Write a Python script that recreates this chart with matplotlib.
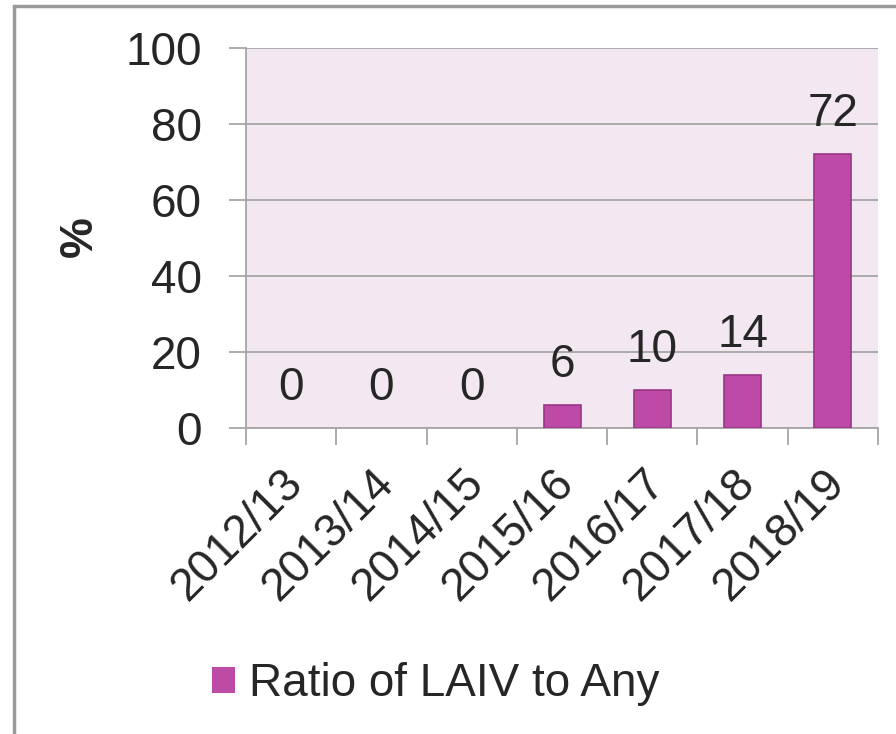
import matplotlib.pyplot as plt
from matplotlib.patches import Rectangle
from matplotlib.transforms import ScaledTranslation

# data
seasons = ['2012/13', '2013/14', '2014/15', '2015/16', '2016/17', '2017/18', '2018/19']
ratio = [0, 0, 0, 6, 10, 14, 72]
series_name = 'Ratio of LAIV to Any'
y_ticks = [0, 20, 40, 60, 80, 100]

plt.rcParams['font.family'] = ['Liberation Sans', 'DejaVu Sans']
fs = 33
bar_color = '#BC4AA6'
edge_color = '#9B3587'
grid_color = '#A6A6A6'
text_color = '#262626'

fig = plt.figure(figsize=(8.96, 7.34), dpi=100)
ax = fig.add_axes([0.2746, 0.4169, 0.7054, 0.5177])
ax.set_facecolor('#F3E8F1')

x = list(range(len(seasons)))
bars = ax.bar(x, ratio, width=0.41, color=bar_color, edgecolor=edge_color,
              linewidth=1.2, label=series_name, zorder=3)
for b, v in zip(bars, ratio):
    if v == 0:
        b.set_linewidth(0)

for xi, v in zip(x, ratio):
    ax.annotate(str(v), (xi, v), xytext=(0, 13), textcoords='offset points',
                ha='center', va='bottom', fontsize=fs, color=text_color)

ax.set_xlim(-0.5, len(seasons) - 0.5)
ax.set_ylim(0, 100)
ax.set_yticks(y_ticks)
ax.yaxis.grid(True, color=grid_color, linewidth=1.3, zorder=0)
ax.set_axisbelow(True)

for s in ['top', 'right']:
    ax.spines[s].set_visible(False)
for s in ['left', 'bottom']:
    ax.spines[s].set_color(grid_color)
    ax.spines[s].set_linewidth(1.3)

ax.tick_params(axis='y', length=12, width=1.3, color=grid_color, pad=20,
               labelsize=fs, labelcolor=text_color)
# x ticks sit between categories
ax.set_xticks([i - 0.5 for i in range(len(seasons) + 1)])
ax.set_xticklabels([])
ax.tick_params(axis='x', length=12, width=1.3, color=grid_color)
ax.set_xticks(x, minor=True)
ax.set_xticklabels(seasons, minor=True, rotation=45, ha='right', va='top',
                   rotation_mode='anchor', fontsize=fs, color=text_color)
ax.tick_params(axis='x', which='minor', length=0, pad=24)
shift = ScaledTranslation(-10 / 100, 0, fig.dpi_scale_trans)
for lbl in ax.get_xticklabels(minor=True):
    lbl.set_transform(lbl.get_transform() + shift)

ax.set_ylabel('%', fontsize=fs, fontweight='bold', color=text_color)
ax.yaxis.set_label_coords((102 - 246) / 632, (428 - 237) / 380)

fig.legend(handles=[bars], labels=[series_name], loc='center',
           bbox_to_anchor=(436 / 896, 1 - 684 / 734), frameon=False,
           fontsize=fs, handlelength=0.5, handleheight=0.5, handletextpad=0.3,
           labelcolor=text_color)

# outer border of the chart area
fig.patches.append(Rectangle((14 / 896, -0.1), 1.2, 1 - 6 / 734 + 0.1,
                             transform=fig.transFigure, fill=False,
                             edgecolor='#999999', linewidth=2.5))

fig.savefig('out.png', dpi=100)
